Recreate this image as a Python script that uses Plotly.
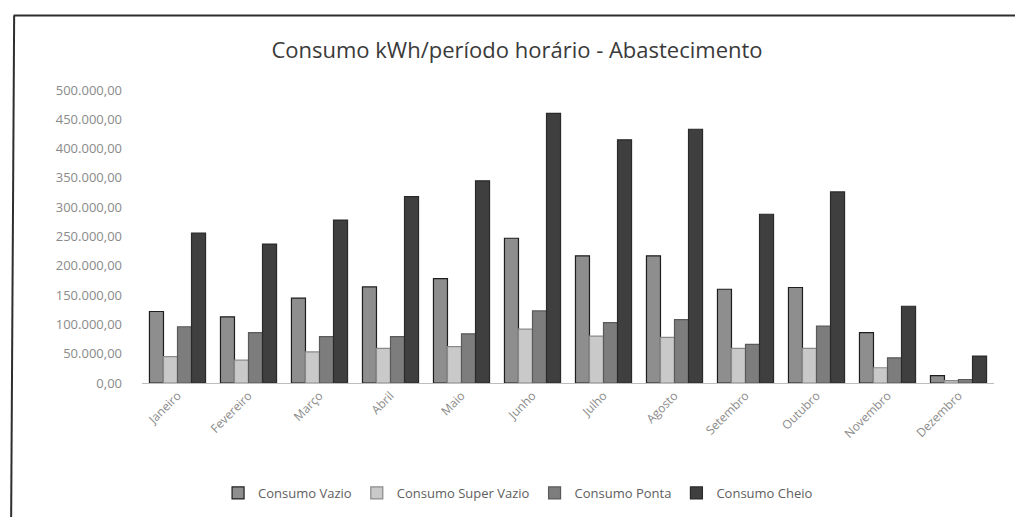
import plotly.graph_objects as go

meses = ["Janeiro", "Fevereiro", "Março", "Abril", "Maio", "Junho", "Julho",
         "Agosto", "Setembro", "Outubro", "Novembro", "Dezembro"]

consumo_vazio = [122000, 113000, 145000, 164000, 178000, 247000, 217000,
                 217000, 160000, 163000, 86000, 12500]
consumo_super_vazio = [45000, 39000, 53000, 59000, 62000, 92000, 80000,
                       78000, 59000, 59000, 26000, 4000]
consumo_ponta = [96000, 86000, 79000, 79000, 84000, 123000, 103000,
                 108000, 66000, 97000, 43000, 6000]
consumo_cheio = [256000, 237000, 278000, 318000, 345000, 460000, 415000,
                 433000, 288000, 326000, 131000, 46000]

y_tick_vals = [0, 50000, 100000, 150000, 200000, 250000, 300000, 350000,
               400000, 450000, 500000]
y_tick_text = ["0,00", "50.000,00", "100.000,00", "150.000,00", "200.000,00",
               "250.000,00", "300.000,00", "350.000,00", "400.000,00",
               "450.000,00", "500.000,00"]

series = [
    ("Consumo Vazio", consumo_vazio, "#8e8e8e", "#1e1e1e"),
    ("Consumo Super Vazio", consumo_super_vazio, "#c9c9c9", "#8a8a8a"),
    ("Consumo Ponta", consumo_ponta, "#7d7d7d", "#5a5a5a"),
    ("Consumo Cheio", consumo_cheio, "#3f3f3f", "#2a2a2a"),
]

fig = go.Figure()
for name, vals, fill, edge in series:
    fig.add_trace(go.Bar(
        x=meses, y=vals, name=name,
        marker=dict(color=fill, line=dict(color=edge, width=1.2)),
    ))

# The page places the figure 8 px from the top-left corner.
OFF = 8
W, H = 1015, 509
L, T = 141.5 - OFF, 90 - OFF
R = W - (994.5 - OFF)
B = H - (383 - OFF)
pw = W - L - R
ph = H - T - B

def px(x):
    return (x - OFF - L) / pw

def py(y):
    return (H - B - (y - OFF)) / ph

fig.update_layout(
    template="none",
    width=W, height=H,
    margin=dict(l=L, r=R, t=T, b=B, autoexpand=False),
    paper_bgcolor="white", plot_bgcolor="white",
    barmode="group", bargap=0.21, bargroupgap=0.0,
    font=dict(family="Open Sans", color="#7a7a7a"),
    title=dict(text="Consumo kWh/período horário - Abastecimento",
               x=(517 - OFF) / W, xref="container", xanchor="center",
               y=1 - (50 - OFF) / H, yref="container", yanchor="middle",
               font=dict(size=22, color="#3a3a3a", family="Open Sans")),
    showlegend=True,
    legend=dict(orientation="h", x=px(518), xanchor="center",
                y=py(493), yanchor="middle",
                font=dict(size=13, color="#5e5e5e"),
                itemwidth=30, traceorder="normal"),
    xaxis=dict(tickangle=-45, showgrid=False, showline=True,
               linecolor="#bdbdbd", linewidth=1, ticks="",
               tickfont=dict(size=12, color="#8a8a8a")),
    yaxis=dict(range=[0, 500000], tickvals=y_tick_vals, ticktext=y_tick_text,
               showgrid=False, zeroline=False, showline=False,
               ticklabelstandoff=19,
               tickfont=dict(size=13, color="#8a8a8a")),
    shapes=[
        dict(type="line", xref="paper", yref="paper",
             x0=px(13), x1=px(1023), y0=py(15.5), y1=py(15.5),
             line=dict(color="#2e2e2e", width=2)),
        dict(type="line", xref="paper", yref="paper",
             x0=px(13.5), x1=px(10.5), y0=py(15.5), y1=py(517),
             line=dict(color="#2e2e2e", width=2)),
    ],
)

fig.write_html("out.html")
